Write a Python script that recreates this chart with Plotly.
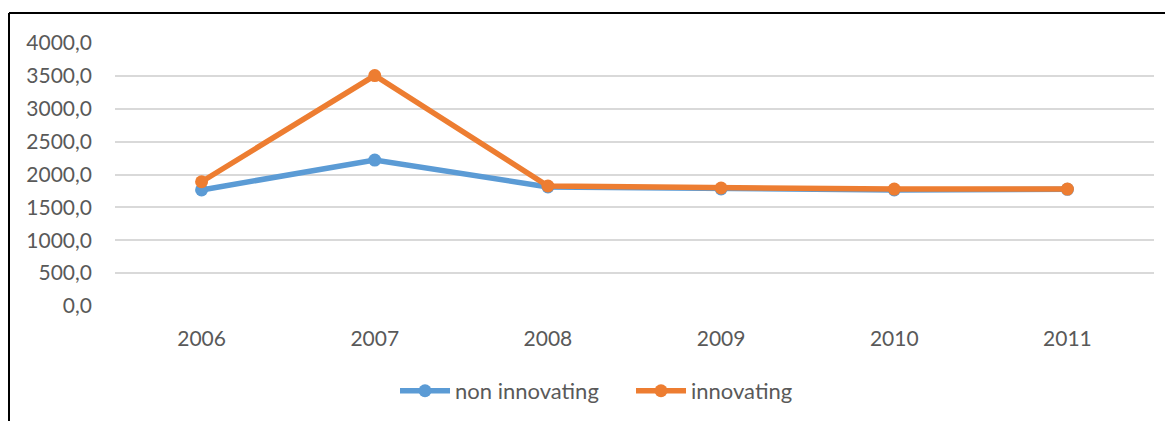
import plotly.graph_objects as go

years = ["2006", "2007", "2008", "2009", "2010", "2011"]
non_innovating = [1765, 2220, 1810, 1780, 1765, 1775]
innovating = [1890, 3505, 1825, 1795, 1778, 1778]

BLUE = "#5B9BD5"
ORANGE = "#ED7D31"
FONT = "Lato, Calibri, sans-serif"

fig = go.Figure()
fig.add_trace(go.Scatter(
    x=years, y=non_innovating, name="non innovating", mode="lines+markers",
    line=dict(color=BLUE, width=5.5), marker=dict(size=13, color=BLUE),
))
fig.add_trace(go.Scatter(
    x=years, y=innovating, name="innovating", mode="lines+markers",
    line=dict(color=ORANGE, width=5.5), marker=dict(size=13, color=ORANGE),
))

# frame of the chart: only the top and left edges are visible in the source
left_x = (1 - 107) / 1039
top_y = 1 + 30 / 263
fig.add_shape(type="line", xref="paper", yref="paper",
              x0=left_x, x1=1.05, y0=top_y, y1=top_y,
              line=dict(color="black", width=2))
fig.add_shape(type="line", xref="paper", yref="paper",
              x0=left_x, x1=left_x, y0=top_y, y1=-0.5,
              line=dict(color="black", width=2))

# the page body has an 8px margin, so the figure is sized to fit the window
fig.update_layout(
    width=1165, height=413,
    margin=dict(l=107, r=19, t=35, b=115, autoexpand=False),
    plot_bgcolor="white", paper_bgcolor="white",
    separators=", ",
    font=dict(family=FONT, size=21, color="#595959"),
    showlegend=True,
    legend=dict(orientation="h", x=0.2695, xanchor="left", y=-0.323,
                yanchor="middle", font=dict(size=22, color="#595959"),
                itemwidth=50, tracegroupgap=0,
                entrywidth=171, entrywidthmode="pixels"),
    xaxis=dict(type="category", range=[-0.5, 5.5], showgrid=False,
               showline=False, zeroline=False, ticks="", ticklabelstandoff=18,
               automargin=False),
    yaxis=dict(range=[0, 4000], dtick=500, tickformat=".1f",
               gridcolor="#D9D9D9", gridwidth=1.5, zeroline=False,
               showline=False, ticks="", ticklabelstandoff=22,
               automargin=False),
)

fig.write_html("out.html")
